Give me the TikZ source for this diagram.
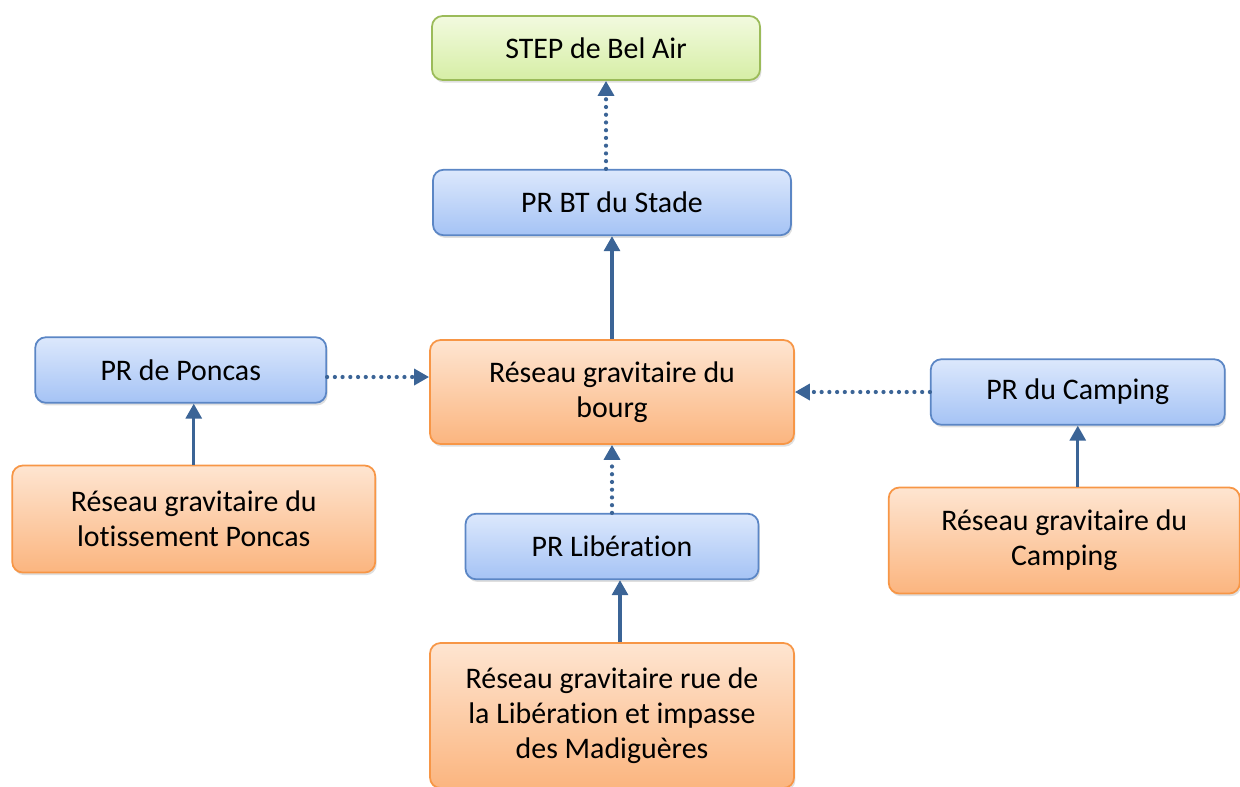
\documentclass[tikz,border=0pt]{standalone}
\usepackage{fontspec}
\setmainfont{Carlito}[Ligatures=NoCommon, Contextuals=NoAlternate]
\usetikzlibrary{arrows.meta,positioning,shadows}
\definecolor{pumpline}{HTML}{5B86C5}
\definecolor{pumptop}{HTML}{DCE8FC}
\definecolor{pumpbot}{HTML}{A5C3F5}
\definecolor{netline}{HTML}{F79646}
\definecolor{nettop}{HTML}{FEE5D1}
\definecolor{netbot}{HTML}{FBB57F}
\definecolor{plantline}{HTML}{9BBB59}
\definecolor{planttop}{HTML}{F2FADF}
\definecolor{plantbot}{HTML}{D6EEA5}
\definecolor{flow}{HTML}{3B6496}

\tikzset{
  box/.style={rounded corners=6pt, line width=1pt, align=center,
    font=\fontsize{17}{19.8}\selectfont,
    drop shadow={opacity=0.25, shadow xshift=0.8pt, shadow yshift=-1.5pt}},
  pump/.style={box, draw=pumpline, top color=pumptop, bottom color=pumpbot,
    minimum height=1.31cm},
  network/.style={box, draw=netline, top color=nettop, bottom color=netbot},
  plant/.style={box, draw=plantline, top color=planttop, bottom color=plantbot},
  flowline/.style={-{Triangle[length=8.5pt,width=9pt]}, flow, line width=1.9pt},
  flowdots/.style={flowline, line width=2.4pt, line cap=round,
    dash pattern=on 0pt off 4.4pt}
}

\begin{document}
\begin{tikzpicture}
  \useasboundingbox (0,0) rectangle (24.8,-15.72);

  % central network and the chain up to the plant
  \node[network, minimum width=7.28cm, minimum height=2.08cm] (bourg) at (12.24,-7.84)
    {Réseau gravitaire du\\bourg};
  \node[pump, above=2.06cm of bourg, minimum width=7.16cm] (stade) {PR BT du Stade};
  \node[plant, above=1.76cm of stade, xshift=-3.2mm, minimum width=6.56cm,
        minimum height=1.28cm] (step) {STEP de Bel Air};

  % branch below
  \node[pump, below=1.36cm of bourg, minimum width=5.86cm] (liberation) {PR Libération};
  \node[network, below=1.24cm of liberation, minimum width=7.28cm, minimum height=2.9cm] (madig)
    {Réseau gravitaire rue de\\la Libération et impasse\\des Madiguères};

  % left branch
  \node[pump, left=2.04cm of bourg, yshift=4.4mm, minimum width=5.82cm] (poncas) {PR de Poncas};
  \node[network, below=1.22cm of poncas, xshift=2.6mm, minimum width=7.26cm,
        minimum height=2.14cm] (lotis) {Réseau gravitaire du\\lotissement Poncas};

  % right branch
  \node[pump, right=2.7cm of bourg, minimum width=5.88cm] (pcamping) {PR du Camping};
  \node[network, below=1.22cm of pcamping, xshift=-2.7mm, minimum width=7.02cm,
        minimum height=2.12cm] (rcamping) {Réseau gravitaire du\\Camping};

  % connectors
  \draw[flowdots] ([xshift=-1.2mm]stade.north) -- ([xshift=-1.2mm]stade.north |- step.south);
  \draw[flowline] (bourg.north) -- (bourg.north |- stade.south);
  \draw[flowdots] ([yshift=-1.4mm]poncas.east) -- ([yshift=-1.4mm]poncas.east -| bourg.west);
  \draw[flowdots] (pcamping.west) -- (pcamping.west -| bourg.east);
  \draw[flowline] (lotis.north -| poncas.south) ++(2.6mm,0) -- ([xshift=2.6mm]poncas.south);
  \draw[flowdots] (liberation.north) -- (liberation.north |- bourg.south);
  \draw[flowline] ([xshift=1.6mm]madig.north) -- ([xshift=1.6mm]madig.north |- liberation.south);
  \draw[flowline] (pcamping.south |- rcamping.north) -- (pcamping.south);
\end{tikzpicture}
\end{document}
